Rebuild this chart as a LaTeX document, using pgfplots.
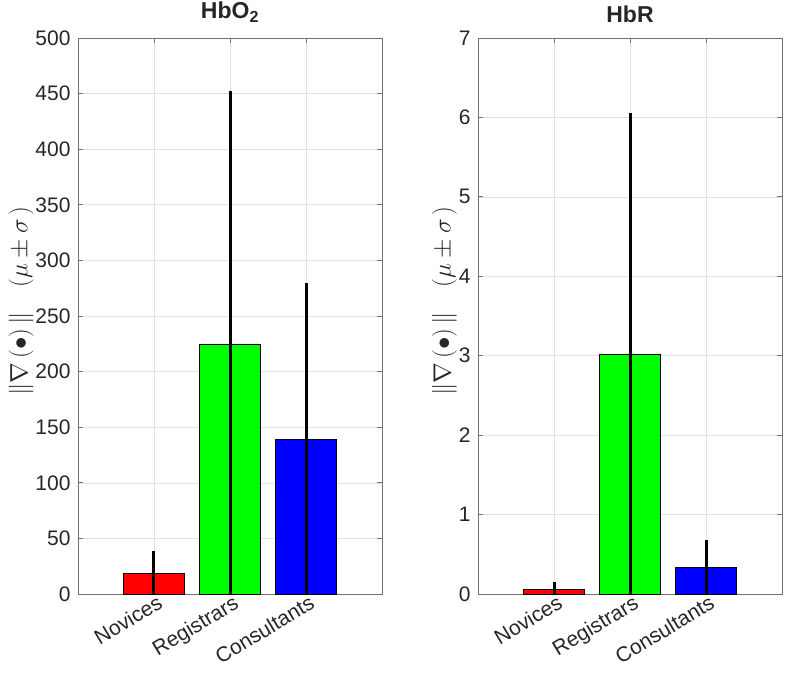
\documentclass[border=0pt]{standalone}
\usepackage{pgfplots}
\pgfplotsset{compat=1.18}
\usepackage{fontspec}
\setmainfont{Liberation Sans}
\definecolor{tickc}{rgb}{0.15,0.15,0.15}
\definecolor{framec}{rgb}{0.45,0.45,0.45}
\definecolor{gridc}{rgb}{0.88,0.88,0.88}
\pgfplotsset{
 mystyle/.style={
  scale only axis, width=304pt, height=556pt,
  xmin=0, xmax=4, ymin=0,
  xtick={1,2,3}, xticklabels={Novices,Registrars,Consultants},
  xticklabel style={rotate=31, anchor=north east, inner sep=1pt, xshift=3pt},
  yticklabel style={xshift=-4pt},
  grid=major, major grid style={gridc, line width=0.6pt},
  axis line style={framec, line width=0.8pt},
  tick style={framec, line width=0.8pt},
  major tick length=5pt,
  tick align=inside, xtick pos=both, ytick pos=both,
  xticklabel pos=lower, yticklabel pos=left,
  ticklabel style={font=\fontsize{21}{24}\selectfont, text=tickc},
  /pgf/number format/assume math mode=true,
  ylabel={$\|\nabla\,(\bullet)\,\|\quad(\mu\pm\sigma\,)$},
  ylabel shift=-5pt,
  ylabel style={font=\fontsize{24}{28}\selectfont, text=tickc, at={(ticklabel cs:0.527)}},
  title style={font=\bfseries\fontsize{23}{26}\selectfont, text=tickc, yshift=6pt},
 },
 barst/.style={ybar, bar width=0.8, bar shift=0pt, draw=black, line width=0.5pt},
 errst/.style={black, line width=3pt, line cap=butt, mark=none},
}
\begin{document}
\begin{tikzpicture}
\begin{axis}[mystyle, at={(0pt,0pt)}, anchor=south west,
  ymax=500, ytick={0,50,...,500}, title={HbO\textsubscript{2}}]
\addplot[barst, fill=red] coordinates {(1,18.9)};
\addplot[barst, fill=green] coordinates {(2,224.8)};
\addplot[barst, fill=blue] coordinates {(3,139.5)};
\addplot[errst] coordinates {(1,0) (1,38.7)};
\addplot[errst] coordinates {(2,0) (2,452)};
\addplot[errst] coordinates {(3,0) (3,279.7)};
\end{axis}
\begin{axis}[mystyle, at={(400pt,0pt)}, anchor=south west,
  ymax=7, ytick={0,1,...,7}, title={HbR}]
\addplot[barst, fill=red] coordinates {(1,0.065)};
\addplot[barst, fill=green] coordinates {(2,3.02)};
\addplot[barst, fill=blue] coordinates {(3,0.34)};
\addplot[errst] coordinates {(1,0) (1,0.15)};
\addplot[errst] coordinates {(2,0) (2,6.06)};
\addplot[errst] coordinates {(3,0) (3,0.68)};
\end{axis}
\pgfresetboundingbox
\path[use as bounding box] (-78pt,-78pt) rectangle (709pt,594pt);
\end{tikzpicture}
\end{document}
